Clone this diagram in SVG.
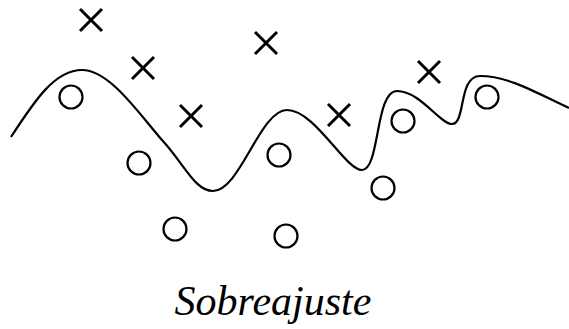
<svg xmlns="http://www.w3.org/2000/svg" width="569" height="329" viewBox="0 0 569 329">
<style>
.x{stroke:#000;stroke-width:3;fill:none}
.o{stroke:#000;stroke-width:2.2;fill:none}
.c{stroke:#000;stroke-width:2.2;fill:none}
.t{font-family:"Liberation Serif",serif;font-style:italic;font-size:42px;fill:#000}
</style>
<defs>
<path id="cross" d="M-11,-11L11,11M-11,11L11,-11"/>
</defs>
<rect width="569" height="329" fill="#fff"/>
<g id="curve">
<path class="c" d="M11,137 C35,100 55,70 82,70 C110,70 140,115 162,140 C185,165 195,191 213,191 C240,191 260,110 287,110 C315,110 345,170 362,170 C380,170 375,91 397,91 C420,91 440,124 452,124 C466,124 458,76 480,76 C510,76 540,95 569,108"/>
</g>
<g id="crosses">
<use class="x" href="#cross" x="91" y="20"/>
<use class="x" href="#cross" x="143" y="68"/>
<use class="x" href="#cross" x="191" y="116"/>
<use class="x" href="#cross" x="266" y="43"/>
<use class="x" href="#cross" x="339" y="115"/>
<use class="x" href="#cross" x="429" y="72"/>
</g>
<g id="circles">
<circle class="o" cx="71" cy="97" r="11.5"/>
<circle class="o" cx="139" cy="163" r="11.5"/>
<circle class="o" cx="175" cy="229" r="11.5"/>
<circle class="o" cx="279" cy="155" r="11.5"/>
<circle class="o" cx="286" cy="236" r="11.5"/>
<circle class="o" cx="383" cy="188" r="11.5"/>
<circle class="o" cx="403" cy="121" r="11.5"/>
<circle class="o" cx="487" cy="97" r="11.5"/>
</g>
<text class="t" x="273" y="315" text-anchor="middle">Sobreajuste</text>
</svg>
